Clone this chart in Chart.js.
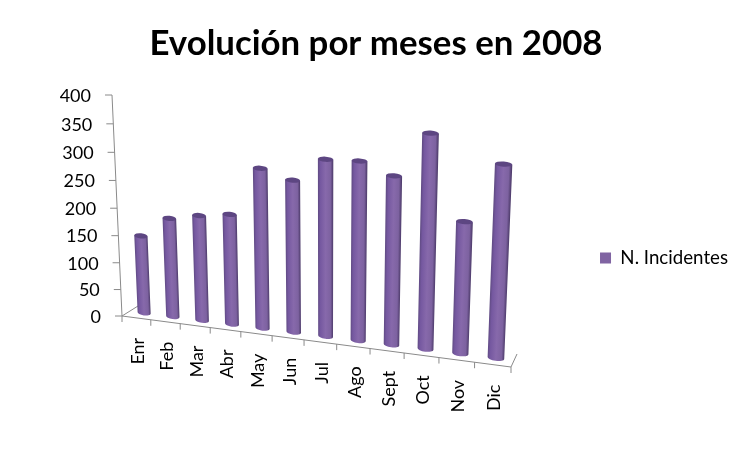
<!DOCTYPE html>
<html>
<head>
<meta charset="utf-8">
<style>
  html, body { margin: 0; background: #fff; }
  canvas { display: block; }
</style>
<script src="https://cdn.jsdelivr.net/npm/chart.js@4/dist/chart.umd.js"></script>
</head>
<body>
<canvas id="chart" width="752" height="452"></canvas>
<script>
// data
const months = ['Enr', 'Feb', 'Mar', 'Abr', 'May', 'Jun', 'Jul', 'Ago', 'Sept', 'Oct', 'Nov', 'Dic'];
const incidents = [143, 180, 190, 197, 281, 265, 304, 305, 285, 357, 220, 316];
const seriesName = 'N. Incidentes';
const chartTitle = 'Evolución por meses en 2008';

// 3D look: the plot rectangle is projected on to this quad (bottom-left, bottom-right, top-right, top-left)
const QUAD = [[122, 316], [511, 367], [522, 117], [112, 95]];
const DEPTH_LEFT = [16, -10];
const DEPTH_RIGHT = [6, -13];
const AXIS_COLOR = '#8a8a8a';
const LEGEND_CENTER_Y = 258;
const LEGEND_SHIFT_X = -14;

function makeHomography(q) {
  const [[x0, y0], [x1, y1], [x2, y2], [x3, y3]] = q;
  const dx1 = x1 - x2, dx2 = x3 - x2, sx = x0 - x1 + x2 - x3;
  const dy1 = y1 - y2, dy2 = y3 - y2, sy = y0 - y1 + y2 - y3;
  const det = dx1 * dy2 - dx2 * dy1;
  const g = (sx * dy2 - dx2 * sy) / det;
  const h = (dx1 * sy - sx * dy1) / det;
  const a = x1 - x0 + g * x1, b = x3 - x0 + h * x3;
  const d = y1 - y0 + g * y1, e = y3 - y0 + h * y3;
  return (u, v) => {
    const w = g * u + h * v + 1;
    return [(a * u + b * v + x0) / w, (d * u + e * v + y0) / w];
  };
}
const homography = makeHomography(QUAD);

// u: 0..1 along the months, v: 0..1 up the value axis, depth: 0 front, 1 back of the floor
function project(u, v, depth = 0) {
  const [x, y] = homography(u, v);
  return [
    x + depth * (DEPTH_LEFT[0] + (DEPTH_RIGHT[0] - DEPTH_LEFT[0]) * u),
    y + depth * (DEPTH_LEFT[1] + (DEPTH_RIGHT[1] - DEPTH_LEFT[1]) * u)
  ];
}

function line(ctx, a, b) {
  ctx.beginPath();
  ctx.moveTo(a[0], a[1]);
  ctx.lineTo(b[0], b[1]);
  ctx.stroke();
}

function drawCylinder(ctx, area, el) {
  const toU = x => (x - area.left) / area.width;
  const toV = y => (area.bottom - y) / area.height;
  const uL = toU(el.x - el.width / 2), uR = toU(el.x + el.width / 2);
  const v = toV(el.y), v0 = toV(el.base);
  const bl = project(uL, v0, 0.5), br = project(uR, v0, 0.5);
  const tl = project(uL, v, 0.5), tr = project(uR, v, 0.5);

  const ellipse = (a, b) => ({
    cx: (a[0] + b[0]) / 2, cy: (a[1] + b[1]) / 2,
    rx: Math.hypot(b[0] - a[0], b[1] - a[1]) / 2,
    rot: Math.atan2(b[1] - a[1], b[0] - a[0])
  });
  const bot = ellipse(bl, br), top = ellipse(tl, tr);
  const ry = 2.6;

  // shading runs across the cylinder, square to its axis
  const ax = top.cx - bot.cx, ay = top.cy - bot.cy;
  const len = Math.hypot(ax, ay);
  const nx = -ay / len, ny = ax / len;
  const r = (top.rx + bot.rx) / 2;
  const grad = ctx.createLinearGradient(top.cx - nx * r, top.cy - ny * r, top.cx + nx * r, top.cy + ny * r);
  grad.addColorStop(0, '#5f4a82');
  grad.addColorStop(0.15, '#7558a0');
  grad.addColorStop(0.5, '#8769ab');
  grad.addColorStop(0.82, '#7d62a0');
  grad.addColorStop(1, '#4c3a69');

  ctx.beginPath();
  ctx.moveTo(tl[0], tl[1]);
  ctx.lineTo(bl[0], bl[1]);
  ctx.ellipse(bot.cx, bot.cy, bot.rx, ry, bot.rot, Math.PI, 0, true);
  ctx.lineTo(tr[0], tr[1]);
  ctx.closePath();
  ctx.fillStyle = grad;
  ctx.fill();

  ctx.beginPath();
  ctx.ellipse(top.cx, top.cy, top.rx, ry, top.rot, 0, Math.PI * 2);
  ctx.fillStyle = '#5d4682';
  ctx.fill();
}

const perspectivePlugin = {
  id: 'perspective',
  afterLayout(chart) {
    const legend = chart.legend;
    const shift = LEGEND_CENTER_Y - (legend.top + legend.bottom) / 2;
    legend.top += shift;
    legend.bottom += shift;
    legend.left += LEGEND_SHIFT_X;
    legend.right += LEGEND_SHIFT_X;
  },
  // move the native tick labels on to the projected axes
  beforeDraw(chart) {
    const { x: xScale, y: yScale } = chart.scales;
    const area = chart.chartArea;
    yScale.getLabelItems().forEach((item, i) => {
      const v = (area.bottom - yScale.getPixelForTick(i)) / area.height;
      const p = project(0, v);
      item.options.translation = [p[0] - 21, p[1] + 1];
    });
    xScale.getLabelItems().forEach((item, i) => {
      const u = (xScale.getPixelForTick(i) - area.left) / area.width;
      const p = project(u, 0);
      item.options.translation = [p[0] - 9, p[1] + 20];
    });
  },
  // axes
  beforeDatasetsDraw(chart) {
    const { ctx, chartArea: area } = chart;
    const { y: yScale } = chart.scales;
    ctx.save();
    ctx.strokeStyle = AXIS_COLOR;
    ctx.lineWidth = 1;
    line(ctx, project(0, 0), project(0, 1));
    line(ctx, project(0, 0), project(1, 0));
    line(ctx, project(0, 0), project(0, 0, 1));
    line(ctx, project(1, 0), project(1, 0, 1));
    yScale.ticks.forEach((t, i) => {
      const v = (area.bottom - yScale.getPixelForTick(i)) / area.height;
      const p = project(0, v);
      line(ctx, p, [p[0] - 7, p[1]]);
    });
    months.forEach((m, i) => {
      const p = project(i / months.length, 0);
      line(ctx, p, [p[0], p[1] + 6]);
    });
    const end = project(1, 0);
    line(ctx, end, [end[0], end[1] + 6]);
    ctx.restore();
  },
  // native bars are replaced by cylinders built from the bar elements
  beforeDatasetDraw(chart, args) {
    const { ctx, chartArea: area } = chart;
    ctx.save();
    args.meta.data.forEach(el => drawCylinder(ctx, area, el));
    ctx.restore();
    return false;
  }
};

new Chart(document.getElementById('chart'), {
  type: 'bar',
  data: {
    labels: months,
    datasets: [{
      label: seriesName,
      data: incidents,
      backgroundColor: '#8064a2',
      barPercentage: 0.46,
      categoryPercentage: 1
    }]
  },
  options: {
    responsive: false,
    animation: false,
    layout: { padding: { left: 0, right: 0, top: 23, bottom: 0 } },
    plugins: {
      tooltip: { enabled: false },
      title: {
        display: true,
        text: chartTitle,
        color: '#000',
        font: { family: 'Lato', size: 34.8, weight: 'bold' },
        padding: { top: 0, bottom: 30 }
      },
      legend: {
        position: 'right',
        labels: {
          color: '#000',
          boxWidth: 11,
          boxHeight: 11,
          font: { family: 'Lato', size: 18.7 }
        }
      }
    },
    scales: {
      x: {
        afterFit(scale) { scale.height = 136; },
        grid: { display: false },
        border: { display: false },
        ticks: {
          color: '#000',
          autoSkip: false,
          minRotation: 90,
          maxRotation: 90,
          font: { family: 'Lato', size: 18 }
        }
      },
      y: {
        afterFit(scale) { scale.width = 122; },
        min: 0,
        max: 400,
        grid: { display: false },
        border: { display: false },
        ticks: {
          color: '#000',
          stepSize: 50,
          font: { family: 'Lato', size: 18 }
        }
      }
    }
  },
  plugins: [perspectivePlugin]
});
</script>
</body>
</html>
